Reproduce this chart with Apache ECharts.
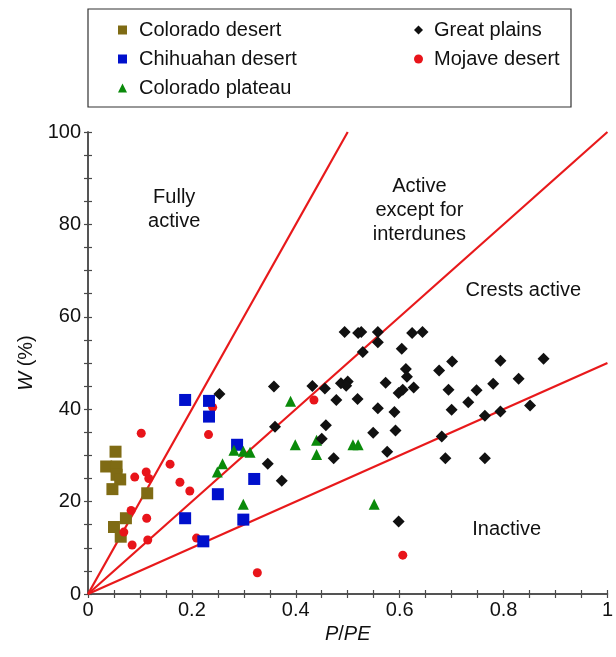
<!DOCTYPE html>
<html>
<head>
<meta charset="utf-8">
<script src="https://cdn.jsdelivr.net/npm/echarts/dist/echarts.min.js"></script>
<style>
  html, body { margin: 0; padding: 0; background: #fff; }
  #chart { width: 616px; height: 657px; }
</style>
</head>
<body>
<div id="chart"></div>
<script>
// data: [P/PE, W (%)]
var coloradoDesert = [[0.053,30.8],[0.035,27.6],[0.055,27.6],[0.055,25.8],[0.062,24.8],[0.047,22.7],[0.114,21.8],[0.073,16.4],[0.05,14.5],[0.063,12.4]];
var chihuahanDesert = [[0.187,42],[0.233,41.8],[0.233,38.4],[0.287,32.3],[0.32,24.9],[0.25,21.6],[0.187,16.4],[0.299,16.1],[0.222,11.4]];
var coloradoPlateau = [[0.281,31.1],[0.299,30.9],[0.312,30.7],[0.259,28.2],[0.249,26.4],[0.299,19.4],[0.39,41.7],[0.399,32.3],[0.44,33.3],[0.44,30.2],[0.51,32.3],[0.52,32.3],[0.551,19.4]];
var greatPlains = [
  [0.253,43.3],[0.358,44.9],[0.432,45],[0.456,44.5],[0.36,36.2],[0.458,36.5],[0.45,33.6],[0.346,28.2],[0.373,24.5],
  [0.494,56.7],[0.52,56.5],[0.526,56.7],[0.558,56.7],[0.624,56.5],[0.644,56.7],[0.558,54.5],[0.529,52.4],[0.604,53.1],
  [0.701,50.3],[0.676,48.4],[0.612,48.7],[0.614,47],[0.487,45.6],[0.5,46],[0.497,45.1],[0.573,45.7],[0.606,44.2],
  [0.598,43.5],[0.627,44.7],[0.694,44.2],[0.478,42],[0.519,42.2],[0.558,40.2],[0.59,39.4],[0.7,39.9],[0.549,34.9],
  [0.592,35.4],[0.473,29.4],[0.576,30.8],[0.681,34.1],[0.688,29.4],[0.598,15.7],[0.794,50.5],[0.877,50.9],[0.748,44.1],
  [0.78,45.5],[0.829,46.6],[0.732,41.5],[0.764,38.6],[0.794,39.5],[0.851,40.8],[0.764,29.4]
];
var mojaveDesert = [[0.1025,34.8],[0.09,25.3],[0.112,26.4],[0.117,25],[0.158,28.1],[0.177,24.2],[0.196,22.3],[0.083,18.1],[0.113,16.4],[0.069,13.4],[0.085,10.6],[0.115,11.7],[0.209,12.1],[0.24,40.4],[0.232,34.5],[0.326,4.6],[0.435,42],[0.606,8.4]];

// boundary lines W = k * P/PE
var boundarySlopes = [200, 100, 50];

// region labels
var regionNames = ['Fully\nactive', 'Active\nexcept for\ninterdunes', 'Crests active', 'Inactive'];
var regionPos = [[0.166, 83.2], [0.638, 83], [0.838, 65.7], [0.806, 14]];

// ticks every 0.05 / 5, labels every 0.2 / 20
var xTickStep = 0.05, xLabelStep = 0.2;
var yTickStep = 5, yLabelStep = 20;

var chart = echarts.init(document.getElementById('chart'));
var font = 'Liberation Sans, Arial, Helvetica, sans-serif';

function lineData(k){
    var xEnd = Math.min(1, 100 / k);
    return [[0, 0], [xEnd, k * xEnd]];
}

function everyNth(step){
    return function(v){
        var r = v / step;
        return Math.abs(r - Math.round(r)) < 1e-6 ? String(+v.toFixed(2)) : '';
    };
}

var axisCommon = {
    min: 0,
    axisLine: { lineStyle: { color: '#4a4a4a', width: 1.5 } },
    axisTick: { inside: true, length: 4, lineStyle: { color: '#4a4a4a', width: 1.2 } },
    splitLine: { show: false }
};

var series = [];
boundarySlopes.forEach(function(k){
    series.push({
        type: 'line',
        data: lineData(k),
        symbol: 'none',
        silent: true,
        lineStyle: { color: '#e8191b', width: 2.2 },
        z: 1
    });
});
series.push(
    { name: 'Colorado desert', type: 'scatter', symbol: 'rect', symbolSize: 12, data: coloradoDesert, itemStyle: { color: '#7f6b14', opacity: 1 }, z: 2 },
    { name: 'Mojave desert', type: 'scatter', symbol: 'circle', symbolSize: 9, data: mojaveDesert, itemStyle: { color: '#e8141a', opacity: 1 }, z: 3 },
    { name: 'Chihuahan desert', type: 'scatter', symbol: 'rect', symbolSize: 12, data: chihuahanDesert, itemStyle: { color: '#0010cc', opacity: 1 }, z: 4 },
    { name: 'Colorado plateau', type: 'scatter', symbol: 'triangle', symbolSize: 11, data: coloradoPlateau, itemStyle: { color: '#0a8a0a', opacity: 1 }, z: 5 },
    { name: 'Great plains', type: 'scatter', symbol: 'diamond', symbolSize: 12, data: greatPlains, itemStyle: { color: '#111', opacity: 1 }, z: 6 },
    {
        type: 'scatter',
        symbolSize: 0,
        silent: true,
        itemStyle: { opacity: 1 },
        data: regionNames.map(function(n, i){ return { name: n, value: regionPos[i] }; }),
        label: {
            show: true, position: 'inside', formatter: '{b}',
            fontFamily: font, fontSize: 20, color: '#111', opacity: 1, lineHeight: 24, align: 'center',
            textBorderWidth: 0
        },
        z: 7
    }
);

var italicName = { fontFamily: font, fontSize: 20, color: '#111', rich: { i: { fontStyle: 'italic', fontFamily: font, fontSize: 20, color: '#111' } } };

var option = {
    animation: false,
    backgroundColor: '#fff',
    textStyle: { fontFamily: font },
    graphic: [{
        type: 'rect',
        shape: { x: 88, y: 9, width: 483, height: 98 },
        style: { fill: 'none', stroke: '#333', lineWidth: 1.2 }
    }],
    legend: [
        {
            data: ['Colorado desert', 'Chihuahan desert', 'Colorado plateau'],
            orient: 'vertical', left: 113, top: 15,
            itemWidth: 9, itemHeight: 9, itemGap: 9,
            textStyle: { fontFamily: font, fontSize: 20, color: '#111', padding: [0, 0, 0, 7] }
        },
        {
            data: ['Great plains', 'Mojave desert'],
            orient: 'vertical', left: 409, top: 15,
            itemWidth: 9, itemHeight: 9, itemGap: 9,
            textStyle: { fontFamily: font, fontSize: 20, color: '#111', padding: [0, 0, 0, 6] }
        }
    ],
    grid: { left: 88, right: 6, top: 132, bottom: 63 },
    xAxis: [
        Object.assign({}, axisCommon, {
            type: 'value', max: 1, interval: xTickStep, position: 'bottom',
            name: '{i|P}/{i|PE}', nameLocation: 'middle', nameGap: 29,
            nameTextStyle: italicName,
            axisLabel: { fontFamily: font, fontSize: 20, color: '#111', margin: 6, formatter: everyNth(xLabelStep) }
        }),
        Object.assign({}, axisCommon, {
            type: 'value', max: 1, interval: xTickStep, position: 'top',
            axisLabel: { show: false }
        })
    ],
    yAxis: [
        Object.assign({}, axisCommon, {
            type: 'value', max: 100, interval: yTickStep, position: 'left',
            name: '{i|W} (%)', nameLocation: 'middle', nameGap: 47,
            nameTextStyle: italicName,
            axisLabel: { fontFamily: font, fontSize: 20, color: '#111', margin: 7, formatter: everyNth(yLabelStep) }
        }),
        Object.assign({}, axisCommon, {
            type: 'value', max: 100, interval: yTickStep, position: 'right',
            axisLabel: { show: false }
        })
    ],
    series: series
};

chart.setOption(option);
</script>
</body>
</html>
